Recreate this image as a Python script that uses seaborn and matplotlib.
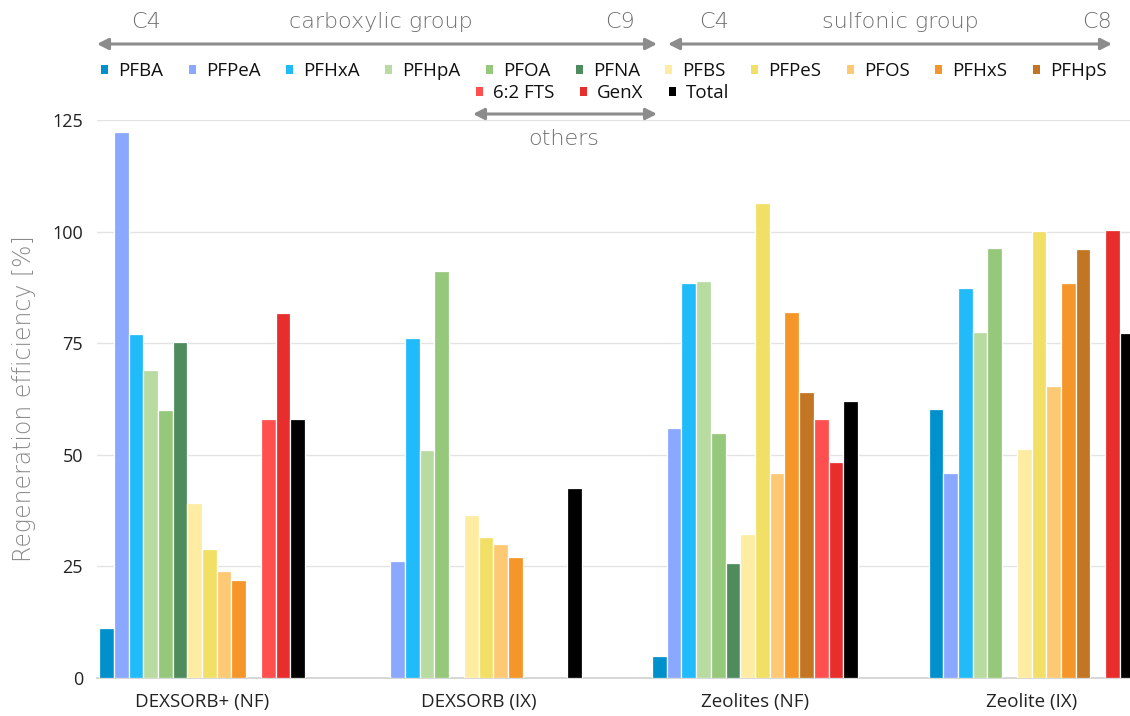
import numpy as np
import pandas as pd
import matplotlib
matplotlib.use("Agg")
import matplotlib.pyplot as plt
from matplotlib.patches import Patch, FancyArrowPatch
import seaborn as sns

# ---------------- data ----------------
categories = ["DEXSORB+ (NF)", "DEXSORB (IX)", "Zeolites (NF)", "Zeolite (IX)"]
series_names = ["PFBA", "PFPeA", "PFHxA", "PFHpA", "PFOA", "PFNA",
                "PFBS", "PFPeS", "PFOS", "PFHxS", "PFHpS",
                "6:2 FTS", "GenX", "Total"]
nan = np.nan
PFBA    = [11.1, nan, 4.9, 60.2]
PFPeA   = [122.4, 26.1, 56.0, 46.0]
PFHxA   = [77.1, 76.1, 88.4, 87.3]
PFHpA   = [69.0, 51.0, 89.0, 77.4]
PFOA    = [60.1, 91.1, 54.8, 96.3]
PFNA    = [75.2, nan, 25.7, nan]
PFBS    = [39.1, 36.5, 32.2, 51.4]
PFPeS   = [28.9, 31.5, 106.4, 100.1]
PFOS    = [23.9, 30.1, 45.9, 65.4]
PFHxS   = [21.9, 27.1, 82.1, 88.4]
PFHpS   = [nan, nan, 64.1, 96.1]
FTS62   = [58.0, nan, 58.0, nan]
GenX    = [81.8, nan, 48.3, 100.3]
Total   = [58.0, 42.6, 62.1, 77.3]
series_values = [PFBA, PFPeA, PFHxA, PFHpA, PFOA, PFNA, PFBS, PFPeS,
                 PFOS, PFHxS, PFHpS, FTS62, GenX, Total]
colors = ["#0091CD", "#8AA8FF", "#22BBFA", "#B8DBA2", "#96C87C", "#4E8C5D",
          "#FDECA2", "#F2DF66", "#FEC975", "#F5962A", "#C27623",
          "#FF4F4F", "#E82D2D", "#000000"]
y_ticks = [0, 25, 50, 75, 100, 125]

rows = []
for name, vals in zip(series_names, series_values):
    for cat, v in zip(categories, vals):
        rows.append({"category": cat, "compound": name, "value": v})
df = pd.DataFrame(rows)

# ---------------- figure ----------------
sns.set_theme(style="white")
plt.rcParams["font.family"] = ["Open Sans", "DejaVu Sans"]

W, H = 1130, 716
fig = plt.figure(figsize=(W / 100, H / 100), dpi=100)
ax = fig.add_axes([97 / W, (H - 678) / H, (W - 97) / W, (678 - 120) / H])

sns.barplot(data=df, x="category", y="value", hue="compound",
            order=categories, hue_order=series_names,
            palette=dict(zip(series_names, colors)), saturation=1,
            width=0.745, errorbar=None, edgecolor="white", linewidth=0.9,
            legend=False, ax=ax, zorder=3)

ax.set_ylim(0, 125)
ax.set_xlim(-0.38, 3.356)
ax.set_yticks(y_ticks)
ax.yaxis.grid(True, color="#e3e3e3", linewidth=1, zorder=0)
ax.set_axisbelow(True)
for s in ["left", "right", "top"]:
    ax.spines[s].set_visible(False)
ax.spines["bottom"].set_color("#cfcfcf")
ax.spines["bottom"].set_linewidth(1.2)
ax.tick_params(axis="y", length=0, pad=10, labelsize=13, labelcolor="#222222")
ax.tick_params(axis="x", length=0, pad=11, labelsize=13.5, labelcolor="#222222")
ax.set_xlabel("")
ax.set_ylabel("Regeneration efficiency [%]", fontsize=17, color="#8a8a8a",
              family="DejaVu Sans", fontweight=200, labelpad=12)

# ---------------- legends ----------------
def mk_legend(names, anchor):
    handles = [Patch(facecolor=colors[series_names.index(n)], edgecolor="none")
               for n in names]
    leg = fig.legend(handles, names, loc="center left", bbox_to_anchor=anchor,
                     bbox_transform=fig.transFigure, ncol=len(names),
                     frameon=False, fontsize=13.5, handlelength=0.37,
                     handleheight=0.37, handletextpad=0.55, columnspacing=1.35,
                     borderpad=0, borderaxespad=0)
    for t in leg.get_texts():
        t.set_color("#111111")
    return leg

mk_legend(series_names[:11], (101 / W, 1 - 71 / H))
mk_legend(series_names[11:], (476 / W, 1 - 93 / H))

# ---------------- group annotations ----------------
grey = "#8c8c8c"

def farrow(x0, x1, y):
    fig.add_artist(FancyArrowPatch(
        (x0 / W, 1 - y / H), (x1 / W, 1 - y / H), transform=fig.transFigure,
        arrowstyle="<|-|>,head_length=0.55,head_width=0.28", color=grey,
        lw=2.2, shrinkA=0, shrinkB=0, mutation_scale=12))

def ftext(x, y, s):
    fig.text(x / W, 1 - y / H, s, ha="center", va="center", fontsize=16,
             color="#6f6f6f", family="DejaVu Sans", fontweight=200)

farrow(97, 657, 44)
farrow(668, 1112, 44)
farrow(473, 657, 114)
ftext(146, 22, "C4")
ftext(381, 22, "carboxylic group")
ftext(620, 22, "C9")
ftext(714, 22, "C4")
ftext(900, 22, "sulfonic group")
ftext(1097, 22, "C8")
ftext(564, 139, "others")

fig.savefig("out.png", dpi=100)
